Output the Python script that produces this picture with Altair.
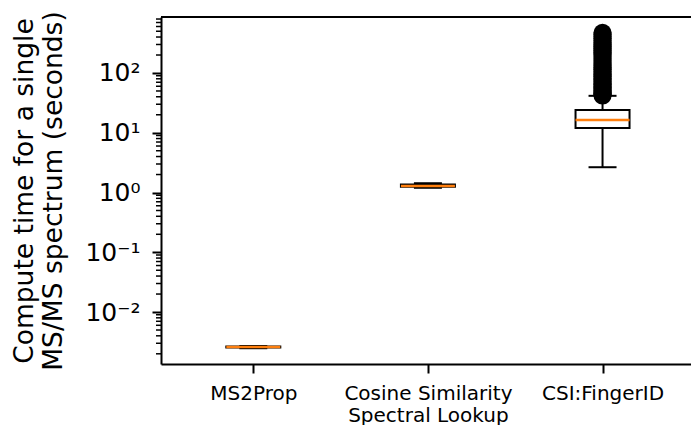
import altair as alt
import pandas as pd

# ---- data ----
categories = ["MS2Prop", "Cosine Similarity\nSpectral Lookup", "CSI:FingerID"]
whisker_lo = [0.00248, 1.20, 2.65]
q1 = [0.00254, 1.25, 12.0]
median = [0.00259, 1.285, 16.3]
q3 = [0.00264, 1.36, 24.0]
whisker_hi = [0.0027, 1.43, 41.5]

# CSI:FingerID outliers (dense column above the upper whisker)
csi_outliers = [42, 44, 46, 48, 51, 54, 57, 60, 64, 68, 72, 77, 82, 88, 94, 100,
                107, 115, 123, 132, 142, 153, 165, 178, 192, 207, 223, 240, 260,
                280, 300, 325, 350, 380, 410, 440, 470]

y_ticks = [0.01, 0.1, 1, 10, 100]
y_tick_labels = ["10⁻²", "10⁻¹", "10⁰", "10¹", "10²"]

# ---- tables ----
box = pd.DataFrame({
    "pos": [i + 1 for i in range(len(categories))],
    "lo": whisker_lo, "q1": q1, "med": median, "q3": q3, "hi": whisker_hi,
})
out = pd.DataFrame({"pos": 3, "v": csi_outliers})

y_domain = [0.00135, 865]
minor = [m * 10.0 ** k for k in range(-3, 3) for m in range(2, 10)]
minor = [v for v in minor if y_domain[0] <= v <= y_domain[1]]
minor_df = pd.DataFrame({"v": minor})

FONT = "DejaVu Sans"
W, H = 530, 347
xscale = alt.Scale(domain=[0.5, 3.478], nice=False, zero=False)
yscale = alt.Scale(type="log", domain=y_domain, nice=False)

# label expression for category names
parts = []
for i, c in enumerate(categories):
    lines = c.split("\n")
    if len(lines) > 1:
        s = "[" + ", ".join("'" + l + "'" for l in lines) + "]"
    else:
        s = "'" + c + "'"
    parts.append((i + 1, s))
xexpr = ""
for p, s in parts[:-1]:
    xexpr += f"datum.value == {p} ? {s} : "
xexpr += parts[-1][1]

yexpr = ""
for v, l in zip(y_ticks[:-1], y_tick_labels[:-1]):
    yexpr += f"abs(datum.value - {v}) < {v} * 0.01 ? '{l}' : "
yexpr += f"'{y_tick_labels[-1]}'"

x_axis = alt.Axis(values=[1, 2, 3], labelExpr=xexpr, title=None, grid=False,
                  labelFont=FONT, labelFontSize=20, labelColor="black",
                  labelLineHeight=22, labelPadding=10, labelFlush=False,
                  labelOverlap=False, labelBound=False,
                  tickSize=9, tickWidth=2, tickColor="black",
                  domainColor="black", domainWidth=2)
y_axis = alt.Axis(values=y_ticks, labelExpr=yexpr, grid=False,
                  title=["Compute time for a single", "MS/MS spectrum (seconds)"],
                  titleFont=FONT, titleFontSize=26.5, titleFontWeight="normal",
                  titleColor="black", titlePadding=17, titleLineHeight=29,
                  labelFont=FONT, labelFontSize=25, labelColor="black",
                  labelPadding=12, labelFlush=False, labelOverlap=False,
                  tickSize=9, tickWidth=2, tickColor="black",
                  domainColor="black", domainWidth=2)

X = lambda f: alt.X(f, scale=xscale, axis=x_axis)
Y = lambda f: alt.Y(f, scale=yscale, axis=y_axis)

base = alt.Chart(box)

whisk_low = base.mark_rule(color="black", strokeWidth=2).encode(
    x=X("pos:Q"), y=Y("lo:Q"), y2="q1:Q",
)
whisk_high = base.mark_rule(color="black", strokeWidth=2).encode(
    x=X("pos:Q"), y=Y("q3:Q"), y2="hi:Q",
)
cap_lo = base.mark_tick(color="black", orient="horizontal", size=28, thickness=2,
                        opacity=1).encode(x=X("pos:Q"), y=Y("lo:Q"))
cap_hi = base.mark_tick(color="black", orient="horizontal", size=28, thickness=2,
                        opacity=1).encode(x=X("pos:Q"), y=Y("hi:Q"))
boxes = base.mark_bar(fill="white", stroke="black", strokeWidth=2, size=54,
                      opacity=1).encode(x=X("pos:Q"), y=Y("q1:Q"), y2="q3:Q")
meds = base.mark_tick(color="#ff7f0e", orient="horizontal", size=54, thickness=2.5,
                      opacity=1).encode(x=X("pos:Q"), y=Y("med:Q"))
fliers = alt.Chart(out).mark_circle(color="black", opacity=1, size=330).encode(
    x=X("pos:Q"), y=Y("v:Q"),
)
minor_ticks = alt.Chart(minor_df).mark_rule(color="black", strokeWidth=1.5).encode(
    x=alt.value(-5), x2=alt.value(0), y=Y("v:Q"),
)
top_spine = alt.Chart(box).mark_rule(color="black", strokeWidth=2).encode(
    x=alt.value(0), x2=alt.value(W), y=alt.value(0),
)

chart = alt.layer(
    whisk_low, whisk_high, cap_lo, cap_hi, boxes, meds, fliers, minor_ticks, top_spine
).properties(
    width=W, height=H,
    padding={"left": 161, "top": 17, "right": 0, "bottom": 61},
    autosize="none",
    background="white",
).configure_view(stroke=None)

chart.save("out.html", embed_options={"renderer": "svg", "actions": False})
